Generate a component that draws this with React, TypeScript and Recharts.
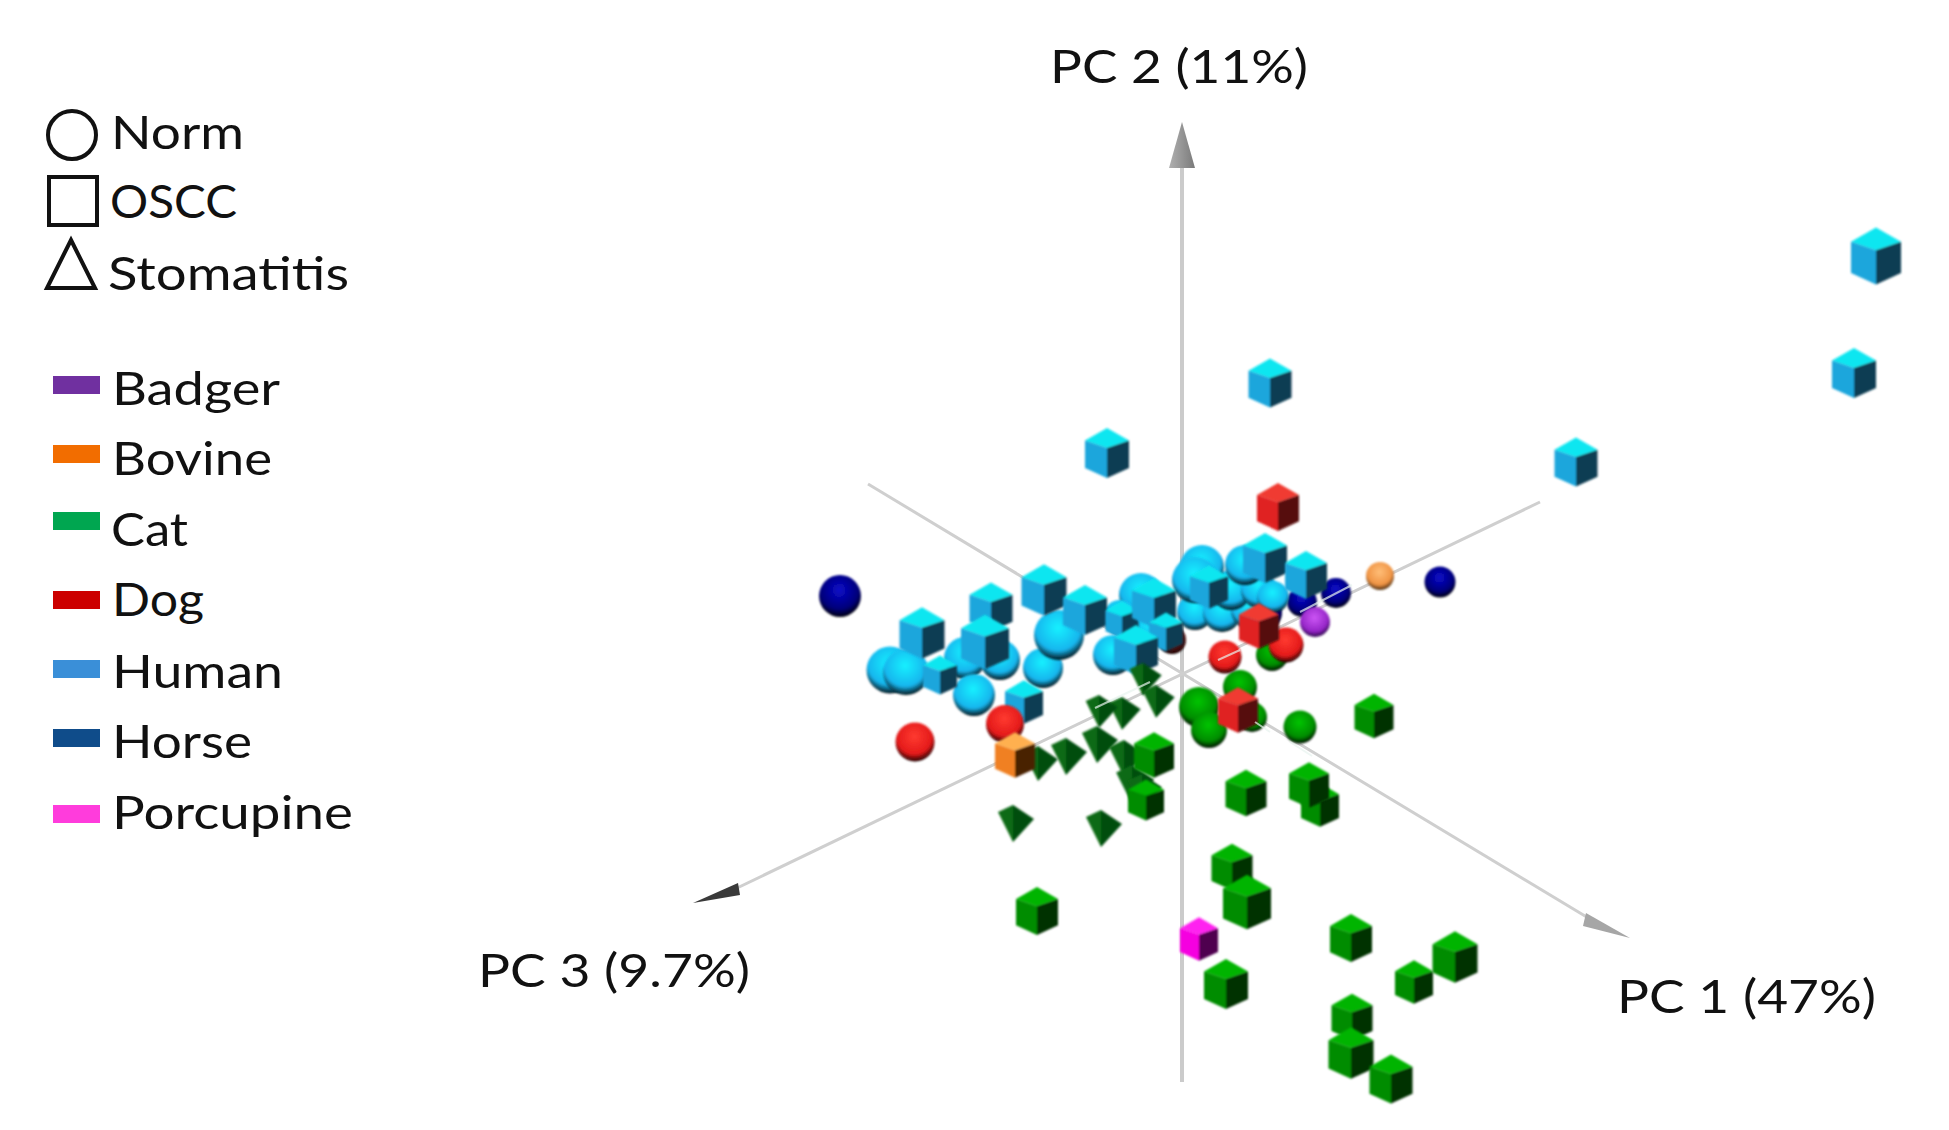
import React from "react";
import { ScatterChart, Scatter, XAxis, YAxis } from "recharts";

type Pt = { x: number; y: number; z: number };
const P = (x: number, y: number, z: number): Pt => ({ x, y, z });

// Readings off the projected 3D view (x, y in picture units, z = apparent depth size)
const horseNorm = [P(840, 596, 42), P(1440, 582, 31), P(1336, 593, 30), P(1302, 602, 30), P(1266, 613, 32)];
const humanNorm = [
  P(890, 670, 47), P(906, 672, 46), P(965, 658, 42), P(1000, 660, 40), P(974, 695, 42), P(1043, 668, 40),
  P(1059, 635, 50), P(1113, 655, 40), P(1141, 595, 44), P(1120, 617, 34), P(1150, 628, 34), P(1195, 612, 36),
  P(1222, 613, 38), P(1250, 610, 38), P(1231, 590, 40), P(1259, 590, 36), P(1273, 597, 32), P(1245, 565, 40),
  P(1202, 567, 44), P(1195, 580, 46),
];
const humanOscc = [
  P(1876, 256, 50), P(1854, 373, 44), P(1576, 462, 43), P(1270, 383, 43), P(1107, 453, 44),
  P(940, 675, 34), P(922, 633, 45), P(991, 607, 43), P(985, 642, 48), P(1044, 590, 45), P(1085, 610, 44),
  P(1122, 620, 33), P(1154, 603, 44), P(1166, 632, 34), P(1136, 650, 44), P(1209, 587, 38),
  P(1265, 558, 44), P(1306, 575, 42), P(1024, 702, 38),
];
const dogBack = [P(1172, 640, 28)];
const badgerNorm = [P(1315, 622, 30)];
const bovineNorm = [P(1380, 576, 28)];
const catNorm = [P(1272, 655, 32), P(1240, 687, 34), P(1252, 717, 30), P(1199, 707, 40), P(1209, 730, 36), P(1300, 727, 33)];
const catStomatitis = [
  P(1143, 678, 32), P(1156, 700, 32), P(1122, 712, 32), P(1099, 710, 32), P(1097, 743, 36), P(1066, 755, 36),
  P(1038, 762, 34), P(1124, 757, 36), P(1132, 783, 38), P(1142, 790, 34), P(1013, 822, 36), P(1101, 827, 36),
];
const dogNorm = [P(915, 742, 39), P(1005, 724, 38), P(1225, 657, 33), P(1286, 645, 35)];
const dogOscc = [P(1278, 507, 42), P(1259, 626, 40), P(1238, 710, 40)];
const bovineOscc = [P(1015, 755, 40)];
const catOscc = [
  P(1154, 755, 40), P(1146, 800, 36), P(1246, 793, 41), P(1320, 805, 38), P(1309, 785, 40), P(1374, 716, 39),
  P(1232, 867, 41), P(1247, 902, 48), P(1037, 911, 42), P(1226, 984, 44), P(1351, 938, 42), P(1414, 982, 38),
  P(1455, 957, 45), P(1352, 1017, 41), P(1351, 1053, 45), P(1391, 1079, 43),
];
const porcupineOscc = [P(1199, 939, 38)];

// Axis lines of the 3D view
const axisPC2 = [{ x: 1182, y: 165 }, { x: 1182, y: 1082 }];
const axisPC1 = [{ x: 868, y: 484 }, { x: 1590, y: 919 }];
const axisPC3 = [{ x: 1540, y: 502 }, { x: 735, y: 889 }];
const glintSegments = [
  [{ x: 1095, y: 708 }, { x: 1150, y: 682 }],
  [{ x: 1218, y: 660 }, { x: 1240, y: 650 }],
  [{ x: 1300, y: 612 }, { x: 1352, y: 585 }],
  [{ x: 1255, y: 722 }, { x: 1270, y: 732 }],
  [{ x: 1290, y: 742 }, { x: 1312, y: 756 }],
];

const axisArrows = [
  { x: 1182, y: 145, pts: "0,-23 -13,23 13,23", fill: "url(#arrowUp)" },
  { x: 715, y: 893, pts: "-22,10 23,-10 25,2", fill: "#3a3a3a" },
  { x: 1606, y: 925, pts: "24,13 -20,-12 -23,1", fill: "#a6a6a6" },
];

const axisTitles = ["PC 2 (11%)", "PC 3 (9.7%)", "PC 1 (47%)"];
const axisTitleBoxes = [
  { x: 1050, y: 83, w: 258 },
  { x: 478, y: 987, w: 272 },
  { x: 1617, y: 1013, w: 259 },
];
const stateLabels = ["Norm", "OSCC", "Stomatitis"];
const stateBoxes = [
  { x: 111, y: 149, w: 133 },
  { x: 110, y: 218, w: 127 },
  { x: 108, y: 290, w: 241 },
];
const speciesLabels = ["Badger", "Bovine", "Cat", "Dog", "Human", "Horse", "Porcupine"];
const speciesColors = ["#7030a0", "#f26d00", "#00a650", "#cc0000", "#3a8fd8", "#0f4c8a", "#ff3cdc"];
const speciesBoxes = [
  { x: 112, y: 405, w: 168, bar: 385 },
  { x: 112, y: 475, w: 160, bar: 454 },
  { x: 111, y: 546, w: 77, bar: 521 },
  { x: 112, y: 616, w: 92, bar: 600 },
  { x: 112, y: 688, w: 171, bar: 669 },
  { x: 112, y: 758, w: 140, bar: 738 },
  { x: 112, y: 829, w: 241, bar: 814 },
];

const titleData = axisTitles.map((label, i) => ({ ...axisTitleBoxes[i], label }));
const stateData = stateLabels.map((label, i) => ({ ...stateBoxes[i], label }));
const speciesData = speciesLabels.map((label, i) => ({ ...speciesBoxes[i], label }));
const barData = speciesColors.map((color, i) => ({ x: 76, y: speciesBoxes[i].bar, color }));
const symbolData = [{ x: 72, y: 135, kind: "circle" }, { x: 73, y: 201, kind: "square" }, { x: 71, y: 264, kind: "triangle" }];

const FONT = "Lato, 'Open Sans', sans-serif";

const Label = (size: number) => (p: any) => (
  <text
    x={p.cx}
    y={p.cy}
    fontFamily={FONT}
    fontSize={size}
    fill="#111"
    textLength={p.payload.w}
    lengthAdjust="spacingAndGlyphs"
  >
    {p.payload.label}
  </text>
);

const Sphere = (grad: string) => (p: any) => (
  <circle cx={p.cx} cy={p.cy} r={p.payload.z / 2} fill={`url(#${grad})`} filter="url(#soft)" />
);

const Cube = (top: string, left: string, right: string) => (p: any) => {
  const w = p.payload.z / 2;
  const h = w * 1.14;
  const { cx: x, cy: y } = p;
  const innerY = y - h * 0.2;
  return (
    <g filter="url(#soft)">
      <polygon points={`${x},${y - h} ${x + w},${y - h * 0.5} ${x},${innerY} ${x - w},${y - h * 0.5}`} fill={top} />
      <polygon points={`${x - w},${y - h * 0.5} ${x},${innerY} ${x},${y + h} ${x - w},${y + h * 0.6}`} fill={left} />
      <polygon points={`${x + w},${y - h * 0.5} ${x},${innerY} ${x},${y + h} ${x + w},${y + h * 0.6}`} fill={right} />
    </g>
  );
};

const Pyramid = (p: any) => {
  const s = p.payload.z / 36;
  const { cx: x, cy: y } = p;
  const pt = (a: number, b: number) => `${x + a * s},${y + b * s}`;
  return (
    <g filter="url(#soft)">
      <polygon points={`${pt(0, -17)} ${pt(-15, -10)} ${pt(0, 20)}`} fill="#0d6a16" />
      <polygon points={`${pt(0, -17)} ${pt(21, -3)} ${pt(0, 20)}`} fill="#044e0e" />
    </g>
  );
};

const Arrow = (p: any) => (
  <polygon
    points={p.payload.pts
      .split(" ")
      .map((s: string) => {
        const [a, b] = s.split(",").map(Number);
        return `${p.cx + a},${p.cy + b}`;
      })
      .join(" ")}
    fill={p.payload.fill}
  />
);

const Bar = (p: any) => <rect x={p.cx - 23} y={p.cy - 9} width={47} height={18} fill={p.payload.color} />;

const Symbol = (p: any) => {
  const { cx: x, cy: y } = p;
  const common = { fill: "none", stroke: "#111", strokeWidth: 4 };
  if (p.payload.kind === "circle") return <circle cx={x} cy={y} r={24} {...common} />;
  if (p.payload.kind === "square") return <rect x={x - 24} y={y - 24} width={48} height={48} {...common} />;
  return <polygon points={`${x},${y - 24} ${x + 24},${y + 24} ${x - 24},${y + 24}`} {...common} />;
};

const Nothing = () => null;

const sphereGradients: [string, string, string, string][] = [
  ["gHorse", "#0a0ac8", "#00007a", "#000010"],
  ["gHuman", "#12f0ff", "#18b6ee", "#021820"],
  ["gDogBack", "#802020", "#501010", "#150000"],
  ["gBadger", "#cc55f5", "#9626c8", "#300a50"],
  ["gBovine", "#ffbe78", "#f09444", "#503014"],
  ["gCat", "#00c400", "#008c00", "#001400"],
  ["gDog", "#ff3a30", "#e41a1a", "#240000"],
];

const cubeColors = {
  human: ["#10e6f0", "#1ea6dc", "#0e3c52"],
  dog: ["#f03a30", "#e02222", "#560808"],
  bovine: ["#ffb050", "#f08020", "#4a2000"],
  cat: ["#00b400", "#008c00", "#003000"],
  porcupine: ["#ff20f0", "#f500e0", "#500050"],
};
const C = (c: string[]) => Cube(c[0], c[1], c[2]);

const on = { isAnimationActive: false } as const;

export default function App() {
  return (
    <div style={{ position: "absolute", left: 0, top: 0, width: 1949, height: 1130, background: "#fff" }}>
      <ScatterChart width={1949} height={1130} margin={{ top: 0, right: 0, bottom: 0, left: 0 }}>
        <defs>
          <filter id="soft" x="-20%" y="-20%" width="140%" height="140%">
            <feGaussianBlur stdDeviation="0.8" />
          </filter>
          <linearGradient id="arrowUp" x1="0" y1="0" x2="1" y2="0">
            <stop offset="0%" stopColor="#b0b0b0" />
            <stop offset="100%" stopColor="#7a7a7a" />
          </linearGradient>
          {sphereGradients.map(([id, a, b, c]) => (
            <radialGradient key={id} id={id} cx="48%" cy="36%" r="64%">
              <stop offset="0%" stopColor={a} />
              <stop offset="70%" stopColor={b} />
              <stop offset="98%" stopColor={c} />
            </radialGradient>
          ))}
        </defs>
        <XAxis type="number" dataKey="x" domain={[0, 1949]} hide allowDataOverflow />
        <YAxis type="number" dataKey="y" domain={[0, 1130]} reversed hide allowDataOverflow />

        <Scatter {...on} data={axisPC2} shape={Nothing} line={{ stroke: "#cbcbcb", strokeWidth: 4 }} />
        <Scatter {...on} data={axisPC1} shape={Nothing} line={{ stroke: "#cfcfcf", strokeWidth: 3 }} />
        <Scatter {...on} data={axisPC3} shape={Nothing} line={{ stroke: "#cfcfcf", strokeWidth: 3 }} />
        <Scatter {...on} data={axisArrows} shape={Arrow} />

        <Scatter {...on} data={horseNorm} shape={Sphere("gHorse")} />
        <Scatter {...on} data={humanNorm} shape={Sphere("gHuman")} />
        <Scatter {...on} data={dogBack} shape={Sphere("gDogBack")} />
        <Scatter {...on} data={humanOscc} shape={C(cubeColors.human)} />
        <Scatter {...on} data={badgerNorm} shape={Sphere("gBadger")} />
        <Scatter {...on} data={bovineNorm} shape={Sphere("gBovine")} />
        <Scatter {...on} data={catNorm} shape={Sphere("gCat")} />
        <Scatter {...on} data={catStomatitis} shape={Pyramid} />
        <Scatter {...on} data={dogNorm} shape={Sphere("gDog")} />
        <Scatter {...on} data={dogOscc} shape={C(cubeColors.dog)} />
        <Scatter {...on} data={bovineOscc} shape={C(cubeColors.bovine)} />
        <Scatter {...on} data={catOscc} shape={C(cubeColors.cat)} />
        <Scatter {...on} data={porcupineOscc} shape={C(cubeColors.porcupine)} />

        {glintSegments.map((seg, i) => (
          <Scatter key={i} {...on} data={seg} shape={Nothing} line={{ stroke: "#e8f4f0", strokeWidth: 2, strokeOpacity: 0.7 }} />
        ))}

        <Scatter {...on} data={titleData} shape={Label(46)} />
        <Scatter {...on} data={stateData} shape={Label(46)} />
        <Scatter {...on} data={speciesData} shape={Label(46)} />
        <Scatter {...on} data={barData} shape={Bar} />
        <Scatter {...on} data={symbolData} shape={Symbol} />
      </ScatterChart>
    </div>
  );
}
